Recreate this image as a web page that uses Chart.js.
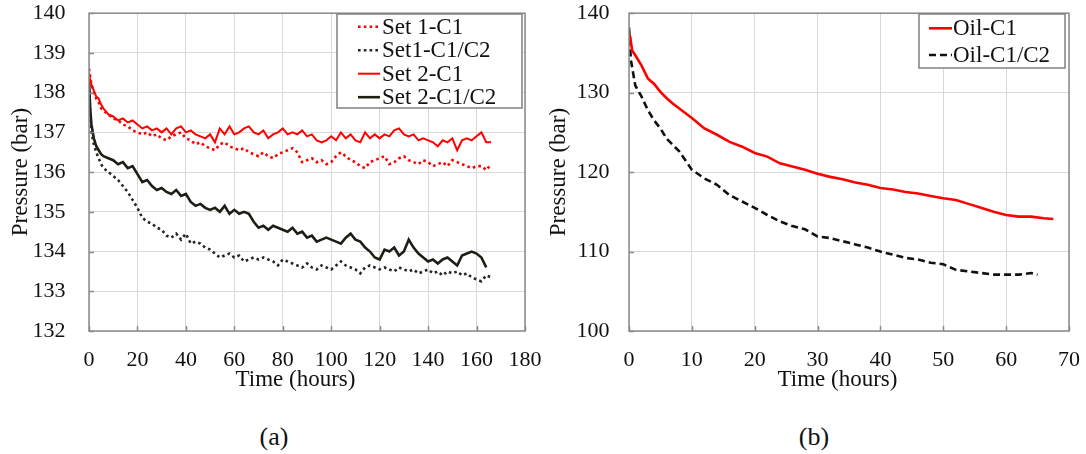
<!DOCTYPE html>
<html><head><meta charset="utf-8">
<script src="https://cdn.jsdelivr.net/npm/chart.js@4"></script>
<style>
html,body{margin:0;padding:0;background:#fff;}
#wrap{position:relative;width:1086px;height:454px;overflow:hidden;background:#fff;}
canvas{position:absolute;top:0;}
.cap{position:absolute;font-family:"Liberation Serif","Times New Roman",serif;font-size:26px;color:#111;transform:translate(-50%,-50%);white-space:nowrap;}
</style></head><body>
<div id="wrap">
<canvas id="ca" width="560" height="400" style="left:0px"></canvas>
<canvas id="cb" width="546" height="400" style="left:540px"></canvas>
<div class="cap" style="left:274px;top:437px">(a)</div>
<div class="cap" style="left:814px;top:437px">(b)</div>
</div>
<script>
// ---------- Panel (a) data ----------
const hoursA = [0,0.5,1,2,3,4,5,6,
  8,10,12,14,16,18,20,22,24,26,28,30,32,34,36,38,40,42,44,46,48,50,52,54,56,58,
  60,62,64,66,68,70,72,74,76,78,80,82,84,86,88,90,92,94,96,98,100,102,104,106,108,
  110,112,114,116,118,120,122,124,126,128,130,132,134,136,138,140,142,144,146,148,
  150,152,154,156,158,160,162,164,166];
const labelsA = ['Set 1-C1','Set1-C1/C2','Set 2-C1','Set 2-C1/C2'];
const set1C1 = [
  138.6,138.4,138.2,138.0,137.85,137.75,137.6,137.55,
  137.45,137.35,137.3,137.2,137.15,137.05,
  137.0,136.95,137.0,136.9,136.95,
  136.85,136.8,136.9,136.95,137.0,
  136.85,136.8,136.7,136.75,136.65,
  136.6,136.55,136.7,136.75,136.65,
  136.6,136.55,136.6,136.5,136.45,
  136.4,136.5,136.4,136.35,136.45,
  136.5,136.55,136.6,136.5,136.25,
  136.3,136.35,136.25,136.3,136.2,
  136.25,136.4,136.5,136.4,136.3,
  136.25,136.15,136.1,136.25,136.3,
  136.35,136.4,136.2,136.25,136.35,
  136.4,136.3,136.25,136.2,136.3,
  136.25,136.15,136.2,136.25,136.15,
  136.3,136.25,136.2,136.15,136.1,
  136.15,136.15,136.05,136.2];
const set1C1C2 = [
  138.2,137.5,137.0,136.7,136.5,136.35,136.2,136.1,
  136.0,135.9,135.8,135.65,135.5,135.3,
  135.1,134.85,134.75,134.7,134.6,
  134.55,134.4,134.35,134.45,134.3,
  134.45,134.2,134.25,134.2,134.1,
  134.05,133.95,133.85,133.9,133.95,
  133.85,133.9,133.75,133.8,133.85,
  133.8,133.85,133.8,133.75,133.65,
  133.8,133.75,133.7,133.65,133.6,
  133.7,133.6,133.55,133.65,133.6,
  133.55,133.65,133.75,133.65,133.6,
  133.55,133.45,133.6,133.65,133.6,
  133.55,133.6,133.55,133.5,133.6,
  133.55,133.5,133.55,133.45,133.5,
  133.55,133.45,133.5,133.4,133.5,
  133.45,133.5,133.4,133.45,133.35,
  133.3,133.25,133.4,133.35];
const set2C1 = [
  138.5,138.3,138.2,138.05,137.9,137.85,137.7,137.6,
  137.45,137.4,137.3,137.35,137.25,137.3,
  137.2,137.1,137.15,137.05,137.1,
  137.0,137.1,136.95,137.1,137.15,
  137.0,137.05,136.95,136.9,136.85,
  136.95,136.75,137.1,136.95,137.15,
  136.95,137.0,137.1,137.15,137.0,
  136.95,137.05,136.85,136.95,137.0,
  137.1,136.95,137.0,136.95,137.05,
  136.9,136.95,136.8,136.75,136.8,
  136.9,136.8,137.0,136.85,136.95,
  136.8,136.75,137.0,136.85,136.95,
  136.85,136.95,136.9,137.05,137.1,
  136.95,136.9,136.95,136.8,136.85,
  136.8,136.75,136.65,136.8,136.75,
  136.85,136.55,136.8,136.85,136.8,
  136.9,137.0,136.75,136.75];
const set2C1C2 = [
  138.3,137.6,137.2,136.85,136.65,136.55,136.45,136.4,
  136.35,136.3,136.2,136.25,136.1,136.15,
  135.95,135.75,135.8,135.65,135.55,
  135.6,135.5,135.45,135.55,135.4,
  135.45,135.25,135.15,135.2,135.1,
  135.05,135.1,135.0,135.15,134.95,
  135.05,134.95,135.0,134.95,134.75,
  134.6,134.65,134.55,134.65,134.6,
  134.55,134.5,134.6,134.45,134.5,
  134.35,134.4,134.25,134.3,134.35,
  134.3,134.25,134.2,134.35,134.45,
  134.3,134.25,134.1,134.0,133.85,
  133.8,134.05,134.0,134.1,133.9,
  134.0,134.3,134.1,133.95,133.85,
  133.75,133.8,133.7,133.8,133.85,
  133.75,133.65,133.9,133.95,134.0,
  133.95,133.85,133.6];

// ---------- Panel (b) data ----------
const labelsB = ['Oil-C1','Oil-C1/C2'];
const hoursOilC1 = [0,0.2,0.5,1,2,3,4,5,6,7,8,
  10,12,14,16,18,20,22,24,26,28,30,32,34,36,38,40,42,44,46,48,50,52,54,56,58,60,62,64,66,67.5];
const oilC1 = [137.4,137.0,135.3,134.7,133.4,131.8,131.1,130.1,129.3,128.6,128.0,
  126.8,125.5,124.7,123.8,123.2,122.4,121.95,121.1,120.7,120.3,119.8,119.4,119.1,118.7,118.4,
  118.0,117.8,117.5,117.3,117.0,116.7,116.5,116.0,115.5,115.0,114.6,114.4,114.4,114.2,114.1];
const hoursOilC1C2 = [0,0.3,1,2,3,4,5,6,8,
  10,12,14,16,18,20,22,24,26,28,30,32,34,36,38,40,42,44,46,48,50,52,54,56,58,60,62,64,65];
const oilC1C2 = [138.2,134.1,130.9,129.5,127.8,126.5,125.5,124.2,122.6,
  120.3,119.2,118.4,117.1,116.3,115.5,114.6,113.8,113.2,112.8,111.9,111.7,111.3,110.9,110.5,
  110.0,109.6,109.2,109.0,108.6,108.4,107.7,107.5,107.3,107.1,107.1,107.1,107.3,107.1];

const ticksA = {xMin:0,xMax:180,xStep:20,yMin:132,yMax:140,yStep:1};
const ticksB = {xMin:0,xMax:70,xStep:10,yMin:100,yMax:140,yStep:10};

// ---------- helpers ----------
function pts(hours, vals){ return vals.map((v,i)=>({x:hours[i], y:v})); }
const SERIF = '"Liberation Serif", "Times New Roman", serif';
const tickFont = {family:SERIF, size:22};
const titleFont = {family:SERIF, size:23};
const CLEAR = 'rgba(0,0,0,0)';

const frame = {
  id:'frame',
  afterDatasetsDraw(chart){
    const {ctx, chartArea:a, scales} = chart;
    ctx.save();
    ctx.strokeStyle = '#8a8a8a'; ctx.lineWidth = 1.5;
    ctx.strokeRect(a.left, a.top, a.right-a.left, a.bottom-a.top);
    ctx.beginPath();
    scales.y.ticks.forEach(t=>{const p=Math.round(scales.y.getPixelForValue(t.value))+0.5; ctx.moveTo(a.left,p); ctx.lineTo(a.left+5,p);});
    scales.x.ticks.forEach(t=>{const p=Math.round(scales.x.getPixelForValue(t.value))+0.5; ctx.moveTo(p,a.bottom); ctx.lineTo(p,a.bottom-5);});
    ctx.stroke();
    ctx.restore();
  }
};
const boxLegend = {
  id:'boxLegend',
  afterDraw(chart, args, o){
    const ctx = chart.ctx;
    ctx.save();
    ctx.fillStyle = '#fff'; ctx.fillRect(o.x, o.y, o.w, o.h);
    ctx.strokeStyle = '#808080'; ctx.lineWidth = 1.5; ctx.strokeRect(o.x, o.y, o.w, o.h);
    ctx.font = '23px ' + SERIF; ctx.textBaseline = 'middle'; ctx.textAlign = 'left';
    chart.data.datasets.forEach((ds,i)=>{
      const yy = o.y0 + i*o.dy;
      ctx.strokeStyle = ds.borderColor; ctx.lineWidth = ds.borderWidth;
      ctx.setLineDash(ds.borderDash || []);
      ctx.beginPath(); ctx.moveTo(o.sx0, yy); ctx.lineTo(o.sx1, yy); ctx.stroke();
      ctx.setLineDash([]);
      ctx.fillStyle = '#111'; ctx.fillText(ds.label, o.tx, yy+1);
    });
    ctx.restore();
  }
};

function makeOptions(t, c){
  return {
    responsive:false, animation:false, devicePixelRatio:1,
    layout:{padding:{left:0, right:c.padR, top:13, bottom:0}},
    plugins:{legend:{display:false}, tooltip:{enabled:false}, boxLegend:c.legend},
    elements:{point:{radius:0}, line:{tension:0}},
    scales:{
      x:{type:'linear', min:t.xMin, max:t.xMax,
        ticks:{stepSize:t.xStep, font:tickFont, color:'#111', padding:0, maxRotation:0, autoSkip:false},
        grid:{color:'#d9d9d9', drawTicks:true, tickLength:15.8, tickColor:CLEAR}, border:{display:false},
        title:{display:true, text:'Time (hours)    ', font:titleFont, color:'#111', padding:{top:0,bottom:6.2}},
        afterFit(s){ s.height = 69; }
      },
      y:{type:'linear', min:t.yMin, max:t.yMax,
        ticks:{stepSize:t.yStep, font:tickFont, color:'#111', padding:0, autoSkip:false},
        grid:{color:'#d9d9d9', drawTicks:true, tickLength:c.yPad, tickColor:CLEAR}, border:{display:false},
        title:{display:true, text:'Pressure (bar)', font:titleFont, color:'#111', padding:{top:c.yTitlePad,bottom:0}},
        afterFit(s){ s.width = 89; }
      }
    }
  };
}

new Chart(document.getElementById('ca'), {
  type:'line',
  data:{datasets:[
    {label:labelsA[0], data:pts(hoursA,set1C1), borderColor:'#ff0000', borderWidth:2.6, borderDash:[2.6,3.2]},
    {label:labelsA[1], data:pts(hoursA,set1C1C2), borderColor:'#262620', borderWidth:2.6, borderDash:[2.6,3.2]},
    {label:labelsA[2], data:pts(hoursA,set2C1), borderColor:'#ff0000', borderWidth:2},
    {label:labelsA[3], data:pts(hoursA,set2C1C2), borderColor:'#1e1e16', borderWidth:2.6}
  ]},
  options: makeOptions(ticksA, {padR:35, yPad:23.6, yTitlePad:6.9,
    legend:{x:337, y:14, w:185, h:94, y0:26.7, dy:23.5, sx0:358, sx1:380, tx:382}}),
  plugins:[frame, boxLegend]
});

new Chart(document.getElementById('cb'), {
  type:'line',
  data:{datasets:[
    {label:labelsB[0], data:pts(hoursOilC1,oilC1), borderColor:'#ff0000', borderWidth:2.6},
    {label:labelsB[1], data:pts(hoursOilC1C2,oilC1C2), borderColor:'#111111', borderWidth:2.6, borderDash:[7,4]}
  ]},
  options: makeOptions(ticksB, {padR:17, yPad:19.4, yTitlePad:5.2,
    legend:{x:379, y:14, w:146, h:54, y0:28.3, dy:26.7, sx0:389, sx1:412, tx:413}}),
  plugins:[frame, boxLegend]
});
</script>
</body></html>
